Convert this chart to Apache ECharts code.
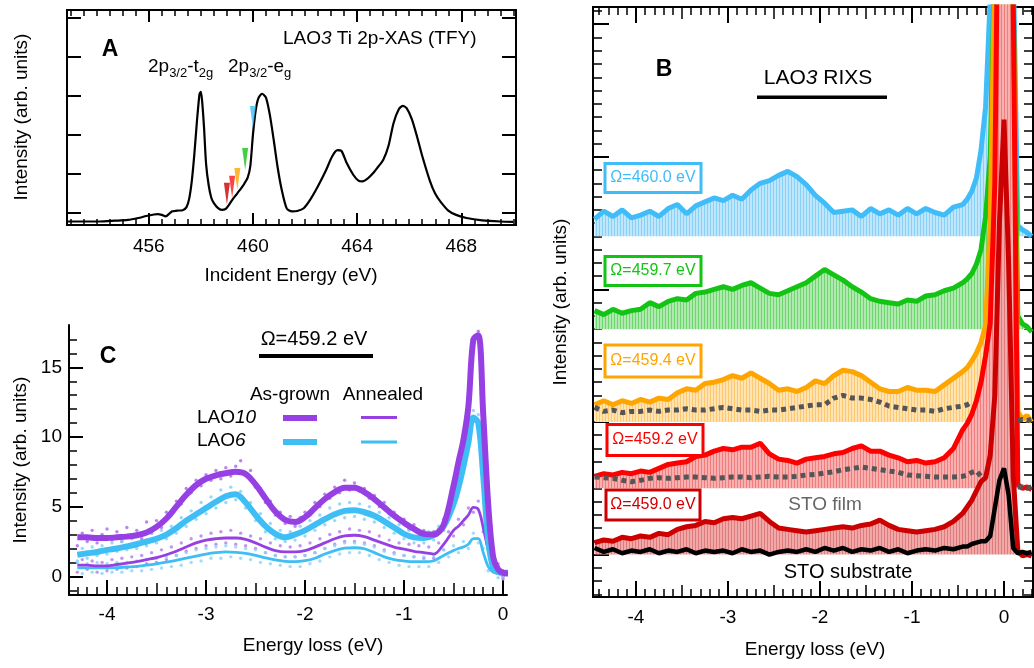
<!DOCTYPE html>
<html><head><meta charset="utf-8">
<script src="https://cdn.jsdelivr.net/npm/echarts@6/dist/echarts.min.js"></script>
<style>html,body{margin:0;padding:0;background:#fff}#c{width:1034px;height:668px}</style>
</head><body><div id="c"></div>
<script>
const FONT = '"Liberation Sans", Arial, Helvetica, sans-serif';

// ---------------- Panel A : XAS ----------------
const xasEnergy = [452.9,453.5,454.1,454.7,455.2,455.6,455.9,456.2,456.35,456.5,456.65,456.8,456.9,457.0,457.1,457.3,457.45,457.55,457.65,457.75,457.85,457.95,458.0,458.05,458.12,458.2,458.3,458.4,458.5,458.65,458.8,458.95,459.05,459.2,459.35,459.5,459.65,459.8,459.9,460.0,460.1,460.2,460.35,460.5,460.65,460.8,460.95,461.1,461.3,461.5,461.7,461.95,462.2,462.5,462.8,463.05,463.25,463.4,463.6,463.85,464.05,464.2,464.4,464.6,464.8,465.0,465.2,465.4,465.6,465.75,465.9,466.1,466.3,466.5,466.8,467.0,467.2,467.5,467.8,468.2,468.8,469.5,470.0];
const xasIntensity = [-0.23,-0.23,-0.23,-0.21,-0.19,-0.14,-0.09,-0.05,-0.04,-0.06,-0.1,-0.02,0.03,0.04,0.05,0.06,0.14,0.35,0.8,1.5,2.35,3.05,3.1,2.85,2.2,1.25,0.7,0.38,0.24,0.12,0.07,0.09,0.17,0.32,0.45,0.58,0.72,0.9,1.2,2.0,2.6,2.92,3.05,2.95,2.5,1.85,1.15,0.6,0.1,0.03,0.04,0.11,0.33,0.68,1.08,1.45,1.6,1.58,1.27,0.97,0.82,0.8,0.87,1.0,1.17,1.35,1.7,2.3,2.65,2.74,2.68,2.4,1.95,1.45,0.8,0.48,0.28,0.05,-0.06,-0.14,-0.2,-0.23,-0.24];
const triEnergy = [459.0, 459.2, 459.4, 459.7, 460.0];
const triTip = [0.2, 0.38, 0.58, 1.09, 2.17];
const triColors = ['#c80000', '#ff1414', '#ffa500', '#14c414', '#40bdf8'];
const xasTickLabels = [456, 460, 464, 468];

// ---------------- Panel B : RIXS (LAO3) ----------------
const lossB = [-4.45,-4.35,-4.25,-4.15,-4.05,-3.95,-3.85,-3.75,-3.65,-3.55,-3.45,-3.35,-3.25,-3.15,-3.05,-2.95,-2.85,-2.75,-2.65,-2.55,-2.45,-2.35,-2.25,-2.15,-2.05,-1.95,-1.85,-1.75,-1.65,-1.55,-1.45,-1.35,-1.25,-1.15,-1.05,-0.95,-0.85,-0.75,-0.65,-0.55,-0.45,-0.4,-0.35,-0.3,-0.25,-0.2,-0.15,-0.1,-0.05,0,0.05,0.1,0.15,0.2,0.25,0.3];
const rixs4600 = [25.3,25.9,25.5,26.0,25.4,25.6,25.9,25.5,26.1,26.4,25.7,26.3,26.6,26.9,26.7,27.1,26.8,27.5,28.0,28.2,28.6,28.9,28.5,27.9,27.1,26.5,25.8,25.9,26.0,25.5,26.1,25.7,26.0,25.6,26.1,25.7,26.1,25.8,25.6,26.2,26.4,26.8,27.4,28.4,30.5,33.8,42,55,70,80,65,45,24.8,24.5,24.3,24.0];
const rixs4597 = [18.4,18.1,18.5,18.2,18.4,18.5,19.0,18.7,19.1,19.3,19.2,19.7,19.8,20.0,20.2,20.0,20.3,20.5,20.1,19.7,19.6,19.9,20.2,20.5,21.0,21.5,21.1,20.7,20.2,19.8,19.3,19.1,19.0,18.9,19.2,19.1,19.5,19.6,19.9,20.1,20.5,20.8,21.2,21.9,23.0,25.5,30,45,60,70,58,42,18.0,17.4,17.2,16.8];
const rixs4594 = [11.3,11.6,11.3,11.6,11.4,11.7,11.5,11.8,11.7,12.2,12.5,12.4,12.9,13.0,13.2,13.5,13.3,13.7,13.3,12.9,12.4,12.5,12.3,12.6,13.1,12.9,13.5,13.9,13.8,13.5,13.0,12.5,12.3,12.3,12.6,12.4,12.4,12.3,12.8,13.3,13.8,14.1,14.6,15.2,16.0,17.3,25,45,62,75,62,42,10.8,10.2,10.5,10.0];
const rixs4592 = [5.9,6.1,6.0,6.2,6.1,6.3,6.2,6.5,6.8,6.9,7.0,7.4,7.5,7.8,8.0,7.9,8.1,8.1,8.4,7.6,7.2,7.1,6.9,7.2,7.3,7.4,7.6,7.7,8.0,8.2,7.8,7.8,7.5,7.3,7.0,7.1,6.9,7.0,7.3,8.0,9.4,9.9,10.6,11.6,13.0,15.0,17.5,28,60,80,65,42,5.3,5.0,5.1,4.9];
const rixs4590 = [0.9,1.1,1.0,1.3,1.2,1.4,1.3,1.6,1.5,1.9,2.1,2.2,2.5,2.4,2.7,2.8,2.7,2.9,3.1,2.5,2.0,1.9,1.8,1.7,1.8,1.9,2.0,2.1,2.0,2.2,2.3,2.6,2.2,1.9,1.8,1.7,1.8,1.9,2.1,2.5,3.1,3.6,4.1,4.8,5.5,5.8,7.5,12,25,32.8,22,6,0.3,-0.1,0.0,-0.1];
const stoFilm4594 = [11.1,10.8,10.9,10.7,10.8,10.8,10.9,10.8,10.9,10.9,11.0,10.9,10.9,11.0,11.1,11.0,10.9,10.9,10.8,10.9,10.9,11.0,11.1,11.2,11.3,11.3,11.8,12.0,11.8,11.8,11.7,11.5,11.2,11.1,11.0,10.9,10.9,10.8,11.0,11.1,11.2,11.3,11.5,null,null,null,null,null,null,null,null,null,10.1,10.2,10.1,10.2];
const stoFilm4592 = [5.85,5.8,5.75,5.6,5.5,5.6,5.75,5.8,5.75,5.8,5.85,5.85,5.8,5.75,5.8,5.85,5.85,5.8,5.85,5.9,5.85,5.85,5.9,6.0,6.05,6.15,6.25,6.4,6.5,6.6,6.5,6.4,6.3,6.2,6.0,5.95,5.9,5.85,5.85,5.85,5.9,6.0,6.2,6.3,5.9,null,null,null,null,null,null,null,5.1,5.1,5.0,5.1];
const stoSubstrate = [0.5,0.2,0.4,0.1,0.3,0.2,0.4,0.1,0.3,0.2,0.4,0.1,0.3,0.2,0.3,0.1,0.4,0.2,0.3,0.0,0.2,0.3,0.2,0.4,0.2,0.5,0.3,0.5,0.2,0.4,0.3,0.5,0.2,0.4,0.1,0.3,0.4,0.3,0.5,0.4,0.6,0.6,0.8,0.9,1.0,1.0,1.4,3.5,5.6,6.5,4.5,0.5,0.1,0.2,0.1,0.2];
const bOffsets = [24, 17, 10, 5, 0];
const bLabels = ['\u03a9=460.0 eV', '\u03a9=459.7 eV', '\u03a9=459.4 eV', '\u03a9=459.2 eV', '\u03a9=459.0 eV'];
const bTickLabels = [-4, -3, -2, -1, 0];

// ---------------- Panel C ----------------
const lossC = [-4.3,-4.2,-4.1,-4.0,-3.9,-3.8,-3.7,-3.6,-3.5,-3.4,-3.3,-3.2,-3.1,-3.0,-2.9,-2.8,-2.7,-2.6,-2.5,-2.4,-2.3,-2.2,-2.1,-2.0,-1.9,-1.8,-1.7,-1.6,-1.5,-1.4,-1.3,-1.2,-1.1,-1.0,-0.9,-0.8,-0.7,-0.6,-0.5,-0.45,-0.4,-0.35,-0.3,-0.25,-0.2,-0.15,-0.1,-0.05,0,0.05];
const lao10Grown = [2.8,2.8,2.75,2.75,2.8,2.85,2.95,3.15,3.55,4.15,5.0,5.85,6.55,7.0,7.25,7.4,7.5,7.35,6.6,5.6,4.65,4.05,3.9,4.25,4.9,5.55,6.05,6.35,6.35,6.05,5.55,4.95,4.35,3.85,3.4,3.05,3.0,3.7,6.5,8.2,9.8,12.2,17.0,17.3,11.6,5.2,1.4,0.5,0.25,0.2];
const lao6Grown = [1.55,1.65,1.75,1.9,2.0,2.15,2.3,2.5,2.7,3.0,3.45,4.0,4.45,4.9,5.35,5.75,5.9,5.3,4.4,3.6,3.05,2.8,3.0,3.3,3.7,4.1,4.45,4.7,4.75,4.6,4.35,3.95,3.5,3.05,2.8,2.75,2.95,3.6,5.2,6.4,7.9,9.6,11.4,11.0,7.2,2.6,0.65,0.3,0.25,0.25];
const lao10Ann = [0.8,0.8,0.75,0.75,0.85,0.95,1.05,1.2,1.35,1.55,1.8,2.1,2.4,2.6,2.7,2.75,2.75,2.65,2.4,2.1,1.85,1.75,1.75,1.85,2.1,2.4,2.7,2.9,2.95,2.85,2.6,2.35,2.1,1.95,1.8,1.7,1.6,2.3,3.3,3.6,4.0,4.4,4.95,4.8,3.5,1.9,0.8,0.4,0.3,0.25];
const lao6Ann = [0.6,0.6,0.6,0.6,0.62,0.67,0.72,0.8,0.9,1.02,1.15,1.3,1.45,1.6,1.7,1.75,1.72,1.65,1.5,1.33,1.18,1.07,1.05,1.12,1.3,1.6,1.85,2.02,2.05,1.98,1.7,1.4,1.2,1.1,1.05,1.05,1.12,1.5,1.85,2.0,2.1,2.3,2.7,2.7,1.7,0.7,0.3,0.2,0.15,0.1];
const lossRaw = [-4.3,-4.25,-4.2,-4.15,-4.1,-4.05,-4.0,-3.95,-3.9,-3.85,-3.8,-3.75,-3.7,-3.65,-3.6,-3.55,-3.5,-3.45,-3.4,-3.35,-3.3,-3.25,-3.2,-3.15,-3.1,-3.05,-3.0,-2.95,-2.9,-2.85,-2.8,-2.75,-2.7,-2.65,-2.6,-2.55,-2.5,-2.45,-2.4,-2.35,-2.3,-2.25,-2.2,-2.15,-2.1,-2.05,-2.0,-1.95,-1.9,-1.85,-1.8,-1.75,-1.7,-1.65,-1.6,-1.55,-1.5,-1.45,-1.4,-1.35,-1.3,-1.25,-1.2,-1.15,-1.1,-1.05,-1.0,-0.95,-0.9,-0.85,-0.8,-0.75,-0.7,-0.65,-0.6,-0.55,-0.5,-0.45,-0.4,-0.35,-0.3,-0.25,-0.2,-0.15,-0.1,-0.05,0,0.05];
const lao10GrownRaw = [2.2,3.1,2.5,3.3,2.4,3.0,3.4,2.6,3.2,2.5,3.5,2.9,3.3,2.7,3.9,3.1,4.0,3.5,4.6,4.4,5.4,5.2,6.3,6.0,6.9,6.5,7.3,6.9,7.6,7.0,7.8,7.2,7.9,8.3,7.3,7.6,6.4,6.3,5.3,5.4,4.4,4.6,3.8,4.3,3.6,4.2,4.6,4.4,5.3,5.0,5.9,5.6,6.4,6.0,6.9,6.2,6.7,6.1,6.3,5.6,5.8,5.0,5.3,4.5,4.6,4.0,4.1,3.4,3.7,2.9,3.3,2.8,3.2,3.4,4.1,5.0,6.9,8.0,10.1,12.3,16.8,17.6,11.2,5.8,1.9,0.6,0.0,0.5];
const lao6GrownRaw = [1.1,2.0,1.3,2.1,1.5,2.2,1.6,2.4,1.8,2.5,1.9,2.7,2.0,2.9,2.2,3.1,2.4,3.3,2.7,3.6,3.1,4.2,3.6,4.7,4.1,5.3,4.5,5.7,4.9,6.2,5.3,6.4,5.5,6.1,4.9,5.3,4.0,4.5,3.2,3.8,2.7,3.3,2.5,3.2,2.6,3.6,2.9,4.0,3.3,4.4,3.7,4.9,4.0,5.2,4.2,5.3,4.3,5.2,4.1,5.0,3.9,4.6,3.5,4.2,3.1,3.7,2.7,3.3,2.4,3.1,2.4,3.2,2.6,3.6,3.3,4.7,4.9,6.8,7.6,10.0,11.9,11.6,7.0,3.0,0.4,0.7,-0.1,0.4];
const lao10AnnRaw = [0.3,1.2,0.5,1.1,0.3,1.0,0.4,1.2,0.5,1.3,0.6,1.4,0.7,1.5,0.9,1.7,1.0,1.9,1.2,2.1,1.5,2.4,1.8,2.7,2.0,2.9,2.2,3.1,2.3,3.2,2.4,3.3,2.3,3.1,2.2,2.9,2.0,2.7,1.7,2.4,1.5,2.2,1.4,2.1,1.4,2.2,1.5,2.4,1.7,2.7,2.0,3.0,2.3,3.2,2.5,3.4,2.5,3.3,2.4,3.2,2.2,2.9,1.9,2.6,1.7,2.4,1.5,2.3,1.4,2.2,1.3,2.1,1.3,2.4,1.9,3.2,2.9,4.1,3.7,4.9,4.6,5.4,3.2,2.3,0.5,0.9,-0.2,0.6];
const lao6AnnRaw = [1.0,0.2,0.9,0.3,1.0,0.2,0.9,0.3,1.0,0.3,1.0,0.4,1.1,0.4,1.2,0.5,1.3,0.6,1.4,0.7,1.5,0.8,1.7,1.0,1.9,1.1,2.0,1.3,2.1,1.3,2.2,1.4,2.1,1.3,2.0,1.2,1.9,1.0,1.7,0.9,1.5,0.8,1.4,0.7,1.4,0.7,1.5,0.9,1.7,1.1,2.0,1.4,2.2,1.6,2.4,1.7,2.4,1.7,2.3,1.5,2.1,1.2,1.8,1.0,1.6,0.8,1.5,0.7,1.4,0.7,1.4,0.7,1.5,1.0,1.9,1.4,2.2,1.7,2.5,2.0,3.1,2.4,2.0,0.4,0.6,-0.1,0.4,-0.2];
const cTickLabelsX = [-4, -3, -2, -1, 0];
const cTickLabelsY = [0, 5, 10, 15];

// ---------------- helpers ----------------
function range(a, b, s) { const o = []; for (let v = a; v <= b + 1e-9; v += s) o.push(+v.toFixed(3)); return o; }
function pairs(xs, ys) { return xs.map((x, i) => [x, ys[i] === undefined ? null : ys[i]]); }
function ax(grid, pos, min, max, vals, len, w, opt) {
  opt = opt || {};
  return {
    type: 'value', gridIndex: grid, position: pos, min: min, max: max,
    axisLine: {show: !!opt.line, onZero: false, lineStyle: {color: '#000', width: 2}},
    splitLine: {show: false},
    axisTick: {show: true, inside: true, length: len, customValues: vals, lineStyle: {color: '#000', width: w}},
    axisLabel: opt.labels ? {show: true, customValues: opt.labels, margin: opt.margin, color: '#000', fontSize: 19, fontFamily: FONT} : {show: false},
    axisPointer: {show: false}, silent: true
  };
}
function stripe(c1, c2) {
  const cv = document.createElement('canvas'); cv.width = 3; cv.height = 4;
  const g = cv.getContext('2d'); g.fillStyle = c1; g.fillRect(0, 0, 3, 4); g.fillStyle = c2; g.fillRect(2, 0, 1, 4);
  return {image: cv, repeat: 'repeat'};
}
function txt(x, y, text, st, extra) {
  return Object.assign({type: 'text', x: x, y: y, z: 100, silent: true,
    style: Object.assign({text: text, fill: '#000', fontSize: 19, fontFamily: FONT, align: 'center', verticalAlign: 'middle'}, st || {})}, extra || {});
}

// ranges
const AX = [452.86, 470.1], AY = [-0.32, 5.2];
const BX = [-4.467, 0.315], BY = [-3.2, 41.3];
const CX = [-4.384, 0.04], CY = [-1.34, 18.04];

const xAxis = [
  ax(0, 'bottom', AX[0], AX[1], xasTickLabels, 12, 2, {labels: xasTickLabels, margin: 12}),
  ax(0, 'bottom', AX[0], AX[1], range(453, 470, 0.5), 6, 1.5),
  ax(0, 'top', AX[0], AX[1], xasTickLabels, 12, 2),
  ax(0, 'top', AX[0], AX[1], range(453, 470, 0.5), 6, 1.5),
  ax(1, 'bottom', BX[0], BX[1], bTickLabels, 16, 2, {labels: bTickLabels, margin: 11}),
  ax(1, 'bottom', BX[0], BX[1], [-3.5, -2.5, -1.5, -0.5], 12, 1.5),
  ax(1, 'bottom', BX[0], BX[1], range(-4.4, 0.3, 0.1), 8, 1.5),
  ax(1, 'top', BX[0], BX[1], bTickLabels, 16, 2),
  ax(1, 'top', BX[0], BX[1], [-3.5, -2.5, -1.5, -0.5], 12, 1.5),
  ax(1, 'top', BX[0], BX[1], range(-4.4, 0.3, 0.1), 8, 1.5),
  ax(2, 'bottom', CX[0], CX[1], cTickLabelsX, 15, 2, {labels: cTickLabelsX, margin: 10, line: true}),
  ax(2, 'bottom', CX[0], CX[1], [-3.5, -2.5, -1.5, -0.5], 12, 1.5),
  ax(2, 'bottom', CX[0], CX[1], range(-4.3, 0, 0.1), 8, 1.5)
];
const yAxis = [
  ax(0, 'left', AY[0], AY[1], [0, 1, 2, 3, 4, 5], 14, 2),
  ax(0, 'right', AY[0], AY[1], [0, 1, 2, 3, 4, 5], 14, 2),
  ax(1, 'left', BY[0], BY[1], [0, 10, 20, 30, 40], 16, 2),
  ax(1, 'left', BY[0], BY[1], range(-3, 41, 1), 9, 1.5),
  ax(1, 'right', BY[0], BY[1], [0, 10, 20, 30, 40], 14, 2),
  ax(1, 'right', BY[0], BY[1], range(-3, 41, 1), 9, 1.5),
  ax(2, 'left', CY[0], CY[1], cTickLabelsY, 14, 2, {labels: cTickLabelsY, margin: 7, line: true}),
  ax(2, 'left', CY[0], CY[1], range(-1, 17, 1), 8, 1.5)
];

const bColors = ['#40bdf8', '#14c414', '#ffa500', '#ff0000', '#cc0000'];
const bFills = [stripe('#bfe6fb', '#86d1f7'), stripe('#b0eab0', '#6cd66c'), stripe('#ffe3b0', '#ffc870'), stripe('#f9b0b0', '#f07c7c'), stripe('#f0a8a8', '#e07b7b')];
const bData = [rixs4600, rixs4597, rixs4594, rixs4592, rixs4590];

const series = [];
// Panel A
series.push({type: 'line', xAxisIndex: 0, yAxisIndex: 0, data: pairs(xasEnergy, xasIntensity), symbol: 'none', smooth: 0.25,
  lineStyle: {color: '#000', width: 2.2}, z: 3, silent: true});
series.push({type: 'scatter', xAxisIndex: 0, yAxisIndex: 0, symbol: 'path://M0,0L10,0L5,40Z', symbolSize: [6, 22], symbolOffset: [0, -11],
  data: triEnergy.map((e, i) => ({value: [e, triTip[i]], itemStyle: {color: triColors[i]}})), z: 4, silent: true});
// Panel B
bData.forEach((vals, k) => {
  series.push({type: 'line', xAxisIndex: 4, yAxisIndex: 2, data: pairs(lossB, vals), symbol: 'none',
    lineStyle: {color: bColors[k], width: 5}, areaStyle: {color: bFills[k], origin: bOffsets[k], opacity: 1}, clip: true, silent: true});
});
[stoFilm4594, stoFilm4592].forEach(vals => {
  series.push({type: 'line', xAxisIndex: 4, yAxisIndex: 2, data: pairs(lossB, vals), symbol: 'none', connectNulls: false,
    lineStyle: {color: '#555', width: 5, type: [5, 4]}, clip: true, silent: true});
});
series.push({type: 'line', xAxisIndex: 4, yAxisIndex: 2, data: pairs(lossB, stoSubstrate), symbol: 'none',
  lineStyle: {color: '#000', width: 4.5}, clip: true, silent: true});
// Panel C
const purple = '#9640e4', sky = '#3fbdf5';
[[lao10GrownRaw, '#a867ea'], [lao6GrownRaw, '#7dd0f6'], [lao10AnnRaw, '#b27ced'], [lao6AnnRaw, '#8ad5f7']].forEach(([vals, col]) => {
  series.push({type: 'scatter', xAxisIndex: 10, yAxisIndex: 6, data: pairs(lossRaw, vals), symbolSize: 3.4, itemStyle: {color: col}, silent: true});
});
[[lao6Ann, sky, 2.8], [lao10Ann, purple, 2.8], [lao6Grown, sky, 6], [lao10Grown, purple, 6]].forEach(([vals, col, w]) => {
  series.push({type: 'line', xAxisIndex: 10, yAxisIndex: 6, data: pairs(lossC, vals), symbol: 'none', smooth: 0.35,
    lineStyle: {color: col, width: w}, silent: true});
});

// annotations
const bBoxes = [[653, 178, 96, 29], [653, 271, 96, 29], [653, 361, 96, 32], [655, 440, 96, 31], [653, 505, 94, 30]];
const graphic = [
  txt(110, 50, 'A', {fontSize: 23, fontWeight: 'bold'}),
  txt(283, 39, 'LAO{i|3} Ti 2p-XAS (TFY)', {align: 'left', rich: {i: {fontStyle: 'italic', fontSize: 19, fontFamily: FONT}}}),
  txt(148, 67, '2p{s|3/2}-t{s|2g}', {align: 'left', lineHeight: 26, rich: {s: {fontSize: 13, fontFamily: FONT, lineHeight: 14, verticalAlign: 'bottom'}}}),
  txt(228, 67, '2p{s|3/2}-e{s|g}', {align: 'left', lineHeight: 26, rich: {s: {fontSize: 13, fontFamily: FONT, lineHeight: 14, verticalAlign: 'bottom'}}}),
  txt(291, 276, 'Incident Energy (eV)'),
  txt(22, 117, 'Intensity (arb. units)', {}, {rotation: Math.PI / 2}),
  // B
  txt(664, 70, 'B', {fontSize: 23, fontWeight: 'bold'}),
  txt(818, 78, 'LAO{i|3} RIXS', {fontSize: 21, rich: {i: {fontStyle: 'italic', fontSize: 21, fontFamily: FONT}}}),
  {type: 'rect', z: 100, shape: {x: 757, y: 95.5, width: 130, height: 3.5}, style: {fill: '#000'}},
  txt(825, 505, 'STO film', {fill: '#666'}),
  txt(848, 572, 'STO substrate', {fontSize: 20}),
  txt(815, 650, 'Energy loss (eV)'),
  txt(561, 302, 'Intensity (arb. units)', {}, {rotation: Math.PI / 2}),
  // C
  txt(108, 357, 'C', {fontSize: 23, fontWeight: 'bold'}),
  txt(314, 339, '\u03a9=459.2 eV', {fontSize: 20}),
  {type: 'rect', z: 100, shape: {x: 259, y: 354, width: 114, height: 4}, style: {fill: '#000'}},
  txt(290, 395, 'As-grown'),
  txt(383, 395, 'Annealed'),
  txt(197, 418, 'LAO{i|10}', {align: 'left', rich: {i: {fontStyle: 'italic', fontSize: 19, fontFamily: FONT}}}),
  txt(197, 441, 'LAO{i|6}', {align: 'left', rich: {i: {fontStyle: 'italic', fontSize: 19, fontFamily: FONT}}}),
  {type: 'line', z: 100, shape: {x1: 283, y1: 418, x2: 317, y2: 418}, style: {stroke: purple, lineWidth: 6}},
  {type: 'line', z: 100, shape: {x1: 361, y1: 417.5, x2: 397, y2: 417.5}, style: {stroke: purple, lineWidth: 3}},
  {type: 'line', z: 100, shape: {x1: 283, y1: 442, x2: 317, y2: 442}, style: {stroke: sky, lineWidth: 6}},
  {type: 'line', z: 100, shape: {x1: 361, y1: 442, x2: 397, y2: 442}, style: {stroke: sky, lineWidth: 3}},
  txt(313, 646, 'Energy loss (eV)'),
  txt(21, 460, 'Intensity (arb. units)', {}, {rotation: Math.PI / 2})
];
bBoxes.forEach((b, k) => {
  graphic.push({type: 'rect', z: 100, shape: {x: b[0] - b[2] / 2, y: b[1] - b[3] / 2, width: b[2], height: b[3]},
    style: {fill: '#fff', stroke: bColors[k], lineWidth: 3}});
  graphic.push(txt(b[0], b[1], bLabels[k], {fontSize: 16, fill: bColors[k]}));
});

const chart = echarts.init(document.getElementById('c'), null, {renderer: 'canvas'});
chart.setOption({
  animation: false,
  backgroundColor: '#fff',
  grid: [
    {left: 67, top: 10, width: 449, height: 215, show: true, borderColor: '#000', borderWidth: 2, backgroundColor: 'transparent', outerBoundsMode: 'none'},
    {left: 593, top: 7, width: 440, height: 590, show: true, borderColor: '#000', borderWidth: 2, backgroundColor: 'transparent', outerBoundsMode: 'none'},
    {left: 69, top: 325, width: 438, height: 270, outerBoundsMode: 'none'}
  ],
  xAxis: xAxis,
  yAxis: yAxis,
  series: series,
  graphic: graphic
});
</script></body></html>
